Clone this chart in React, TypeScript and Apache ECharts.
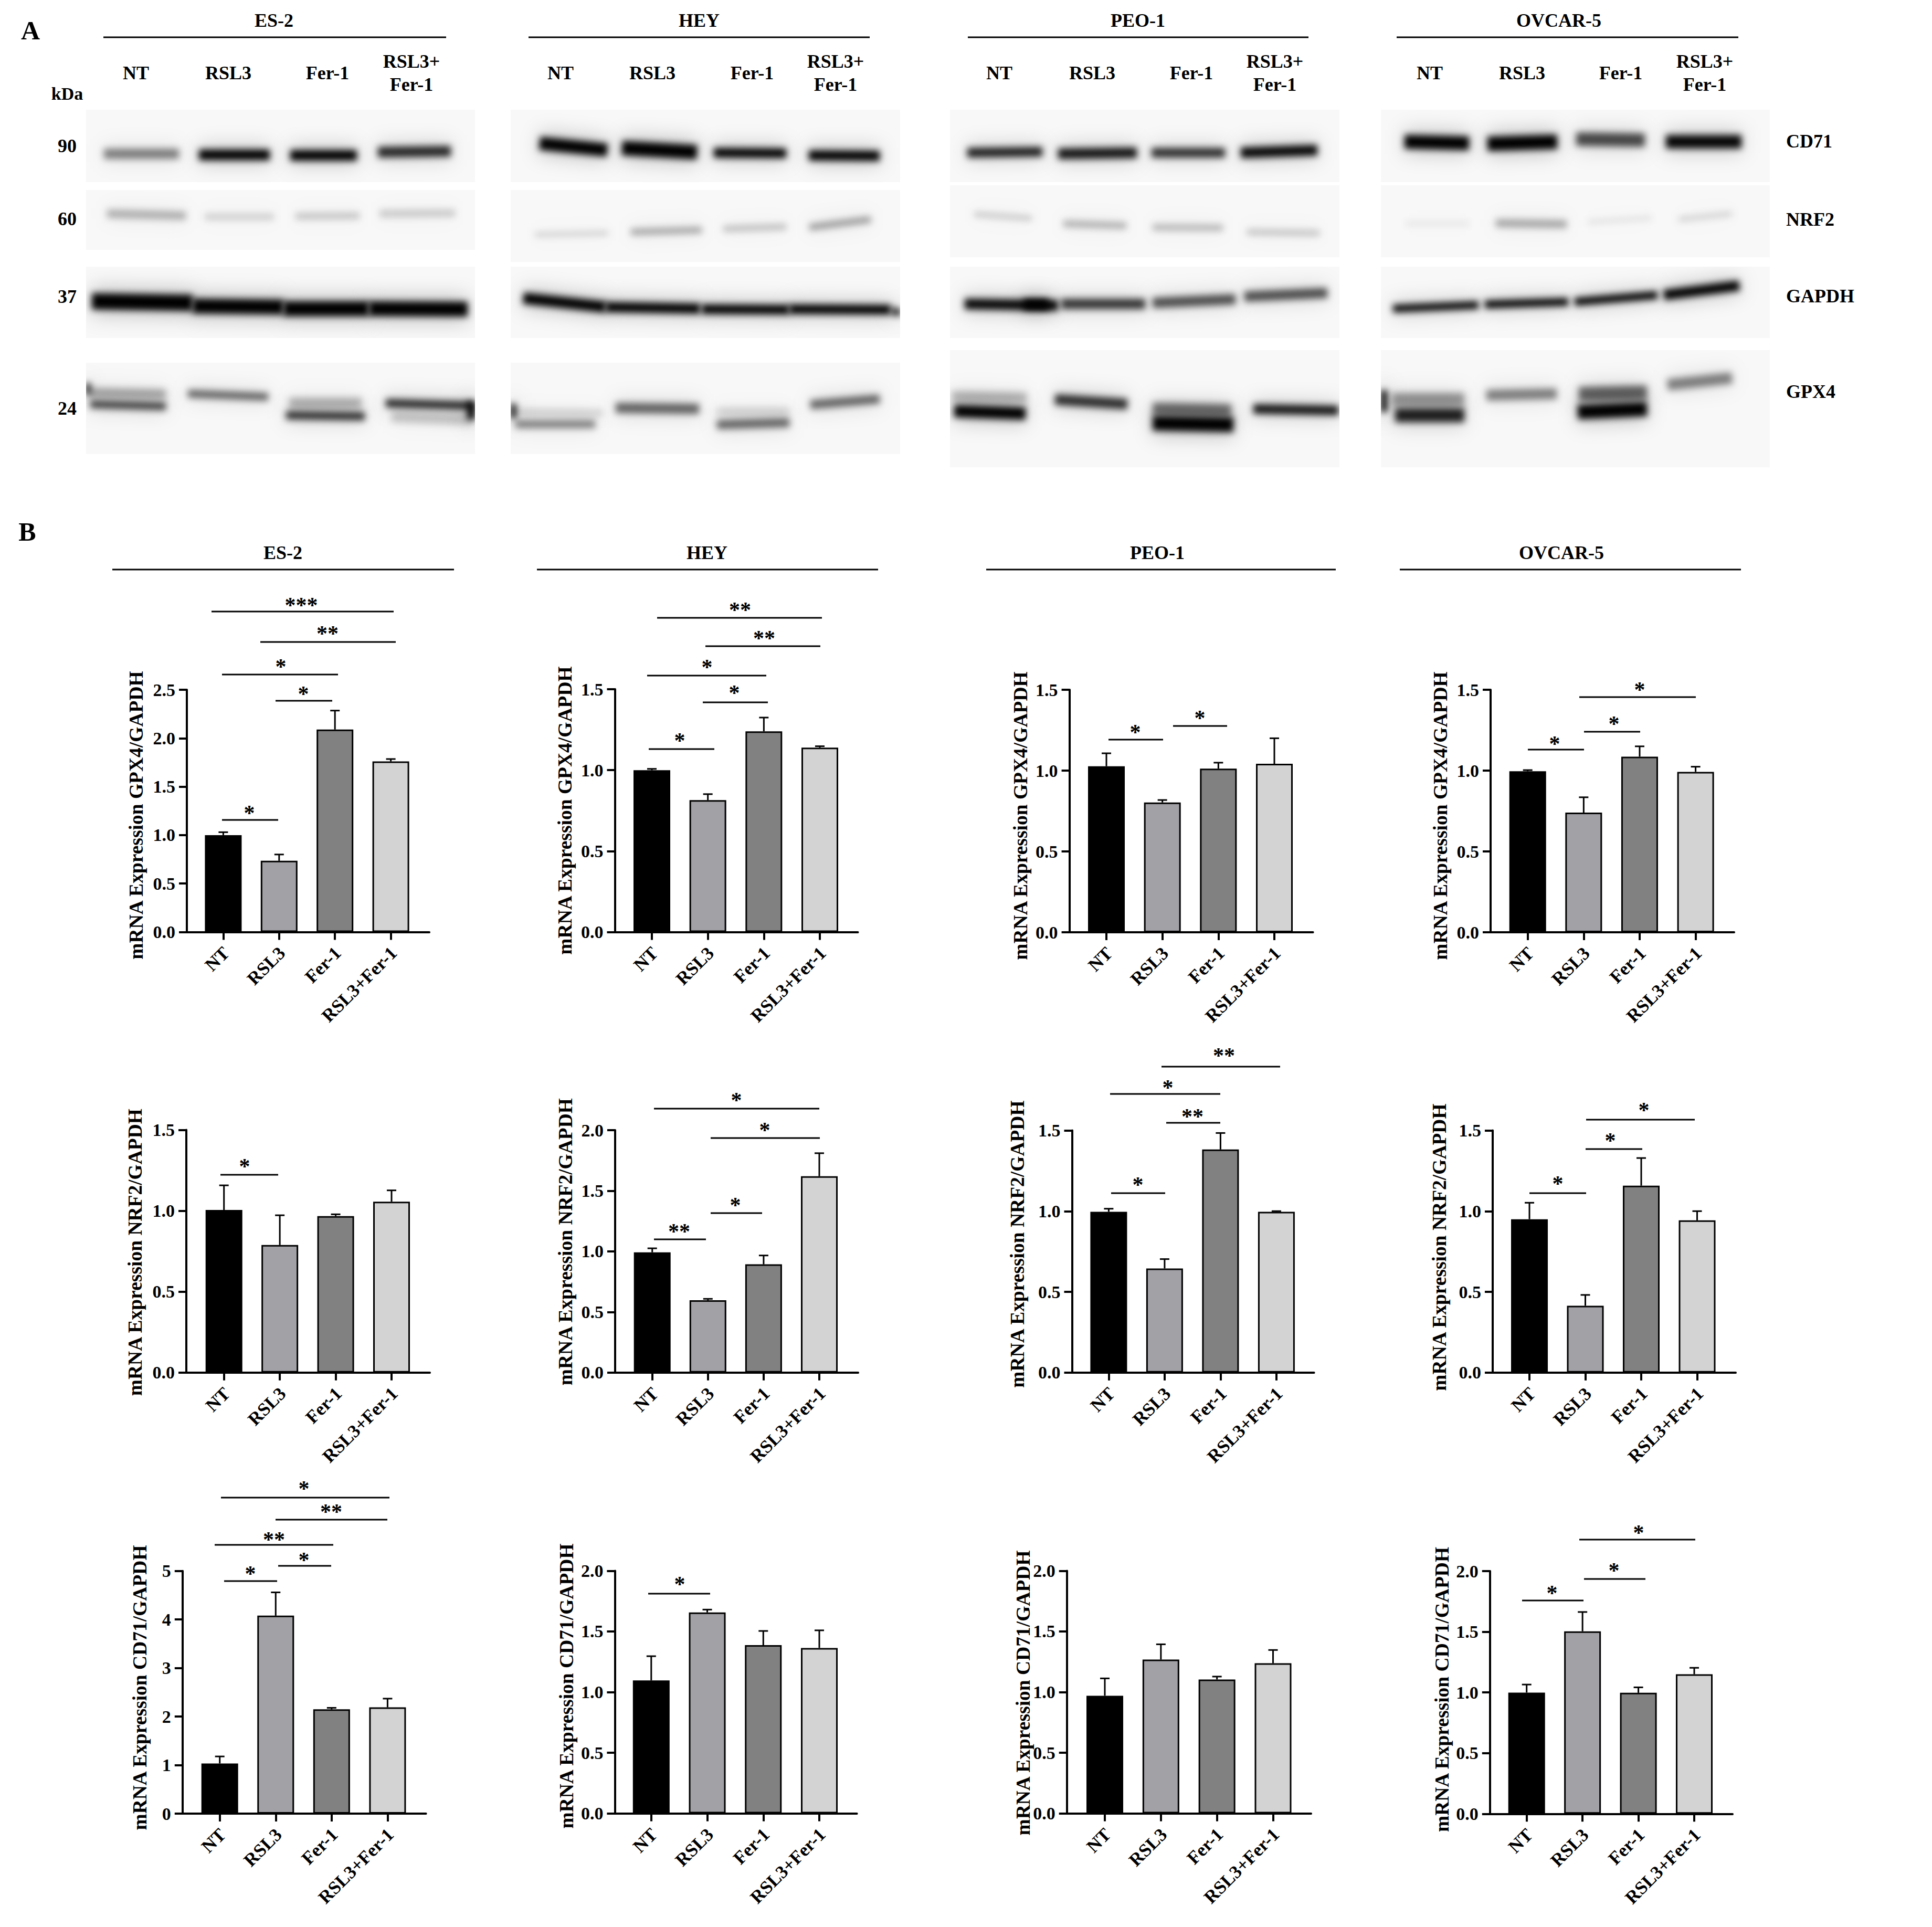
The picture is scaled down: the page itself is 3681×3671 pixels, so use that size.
import React, { useEffect, useRef } from "react";
import * as echarts from "echarts";

// ---------- categories and labels ----------
const categories = ["NT", "RSL3", "Fer-1", "RSL3+Fer-1"];
const blotLabels = ["NT", "RSL3", "Fer-1", "RSL3+\nFer-1"];
const cellLines = ["ES-2", "HEY", "PEO-1", "OVCAR-5"];
const proteins = ["CD71", "NRF2", "GAPDH", "GPX4"];
const markers = ["90", "60", "37", "24"];
const barColors = ["#000000", "#a1a1a6", "#818181", "#d3d3d3"];

// ---------- values: mean and upper error of every bar ----------
const es2Gpx4 = [1.0, 0.735, 2.09, 1.76];
const es2Gpx4Err = [0.03, 0.065, 0.195, 0.025];
const heyGpx4 = [1.0, 0.815, 1.24, 1.139];
const heyGpx4Err = [0.008, 0.037, 0.085, 0.009];
const peoGpx4 = [1.027, 0.803, 1.012, 1.042];
const peoGpx4Err = [0.08, 0.015, 0.037, 0.158];
const ovcarGpx4 = [0.996, 0.74, 1.086, 0.992];
const ovcarGpx4Err = [0.007, 0.095, 0.064, 0.032];

const es2Nrf2 = [1.005, 0.788, 0.967, 1.056];
const es2Nrf2Err = [0.152, 0.184, 0.011, 0.07];
const heyNrf2 = [0.992, 0.597, 0.893, 1.62];
const heyNrf2Err = [0.033, 0.011, 0.073, 0.19];
const peoNrf2 = [0.996, 0.645, 1.382, 0.996];
const peoNrf2Err = [0.019, 0.058, 0.102, 0.004];
const ovcarNrf2 = [0.95, 0.414, 1.158, 0.943];
const ovcarNrf2Err = [0.102, 0.067, 0.171, 0.057];

const es2Cd71 = [1.034, 4.08, 2.15, 2.19];
const es2Cd71Err = [0.144, 0.48, 0.03, 0.18];
const heyCd71 = [1.096, 1.657, 1.387, 1.364];
const heyCd71Err = [0.2, 0.023, 0.117, 0.145];
const peoCd71 = [0.97, 1.268, 1.104, 1.238];
const peoCd71Err = [0.143, 0.126, 0.024, 0.109];
const ovcarCd71 = [0.999, 1.504, 0.997, 1.15];
const ovcarCd71Err = [0.066, 0.159, 0.045, 0.053];

// ---------- layout of the twelve bar charts (pixels of the figure) ----------
const GPX = "mRNA Expression GPX4/GAPDH";
const NRF = "mRNA Expression NRF2/GAPDH";
const CD = "mRNA Expression CD71/GAPDH";
const panels: any[] = [
  { m: es2Gpx4, e: es2Gpx4Err, a: 356, t: 1314, z: 1775.5, end: 818, t0: 425.4, t3: 744.6, max: 2.5, step: 0.5, tx: 259, ty: 1553, title: GPX },
  { m: heyGpx4, e: heyGpx4Err, a: 1171.5, t: 1313, z: 1775.6, end: 1634.5, t0: 1242, t3: 1562, max: 1.5, step: 0.5, tx: 1076, ty: 1544, title: GPX },
  { m: peoGpx4, e: peoGpx4Err, a: 2037.6, t: 1314, z: 1776, end: 2501.6, t0: 2108, t3: 2428, max: 1.5, step: 0.5, tx: 1944, ty: 1554, title: GPX },
  { m: ovcarGpx4, e: ovcarGpx4Err, a: 2840, t: 1314, z: 1776, end: 3304, t0: 2910.7, t3: 3230.6, max: 1.5, step: 0.5, tx: 2744, ty: 1554, title: GPX },
  { m: es2Nrf2, e: es2Nrf2Err, a: 355, t: 2152.4, z: 2614.7, end: 819, t0: 426.7, t3: 746, max: 1.5, step: 0.5, tx: 257, ty: 2385.6, title: NRF },
  { m: heyNrf2, e: heyNrf2Err, a: 1172, t: 2153, z: 2614.7, end: 1635, t0: 1242.7, t3: 1561, max: 2, step: 0.5, tx: 1077, ty: 2365.6, title: NRF },
  { m: peoNrf2, e: peoNrf2Err, a: 2042.5, t: 2153.5, z: 2614.8, end: 2503.6, t0: 2112.4, t3: 2431.9, max: 1.5, step: 0.5, tx: 1938, ty: 2370, title: NRF },
  { m: ovcarNrf2, e: ovcarNrf2Err, a: 2844, t: 2153.5, z: 2614.8, end: 3307, t0: 2914, t3: 3233.5, max: 1.5, step: 0.5, tx: 2742, ty: 2376, title: NRF },
  { m: es2Cd71, e: es2Cd71Err, a: 347.8, t: 2992.8, z: 3455, end: 811.6, t0: 418.7, t3: 738.4, max: 5, step: 1, tx: 266, ty: 3215, title: CD },
  { m: heyCd71, e: heyCd71Err, a: 1171.4, t: 2992.4, z: 3454.6, end: 1632.6, t0: 1240.8, t3: 1561, max: 2, step: 0.5, tx: 1079.6, ty: 3212, title: CD },
  { m: peoCd71, e: peoCd71Err, a: 2032.7, t: 2992.4, z: 3454.6, end: 2498, t0: 2105, t3: 2425.5, max: 2, step: 0.5, tx: 1949, ty: 3225, title: CD },
  { m: ovcarCd71, e: ovcarCd71Err, a: 2838.8, t: 2993, z: 3455.3, end: 3301, t0: 2908.7, t3: 3228, max: 2, step: 0.5, tx: 2747, ty: 3218.5, title: CD },
];

// significance brackets: x1, x2, y, star x, star y, stars
const brackets: any[] = [
  [403, 750, 1165, 574, 1148, "***"], [496, 754, 1223, 624, 1202, "**"], [423, 644, 1285, 535, 1265, "*"], [525, 633, 1335, 578, 1317, "*"], [423, 530, 1562, 475, 1544, "*"],
  [1252, 1566, 1177, 1410, 1157, "**"], [1344, 1563, 1231, 1456, 1211, "**"], [1233, 1460, 1287, 1347, 1266, "*"], [1339, 1463, 1338, 1399, 1315, "*"], [1236, 1361, 1427, 1295, 1406, "*"],
  [2112, 2216, 1409, 2163, 1390, "*"], [2235, 2338, 1383, 2286, 1363, "*"],
  [3009, 3231, 1328, 3124, 1309, "*"], [3018, 3125, 1394, 3075, 1374, "*"], [2911, 3018, 1428, 2962, 1412, "*"],
  [420, 530, 2238, 466, 2217, "*"],
  [1246, 1561, 2112, 1403, 2091, "*"], [1354, 1562, 2168, 1457, 2148, "*"], [1354, 1452, 2311, 1401, 2291, "*"], [1246, 1345, 2361, 1294, 2341, "**"],
  [2213, 2439, 2032, 2332, 2006, "**"], [2115, 2325, 2084, 2225, 2067, "*"], [2222, 2325, 2139, 2272, 2122, "**"], [2117, 2220, 2273, 2168, 2252, "*"],
  [3022, 3229, 2133, 3132, 2110, "*"], [3021, 3129, 2189, 3068, 2168, "*"], [2914, 3022, 2273, 2968, 2250, "*"],
  [421, 742, 2853, 579, 2831, "*"], [525, 738, 2895, 631, 2875, "**"], [409, 635, 2943, 522, 2928, "**"], [530, 631, 2983, 579, 2967, "*"], [427, 528, 3012, 477, 2993, "*"],
  [1235, 1353, 3036, 1295, 3013, "*"],
  [3009, 3230, 2933, 3122, 2915, "*"], [3018, 3135, 3008, 3075, 2987, "*"], [2900, 3017, 3049, 2957, 3030, "*"],
];

// header bars: text x, text y, line x1, line x2, line y
const blotHeaders: any[] = [[522, 39, 197, 850, 71], [1332, 39, 1007, 1657, 71], [2168, 39, 1844, 2493, 71], [2970, 39, 2661, 3312, 71]];
const chartHeaders: any[] = [[539, 1053, 214, 865, 1085], [1347, 1053, 1023, 1673, 1085], [2205, 1053, 1879, 2545, 1085], [2975, 1053, 2667, 3317, 1085]];
const laneLabelX = [[259, 435, 624, 784], [1068, 1243, 1433, 1592], [1904, 2081, 2270, 2429], [2724, 2900, 3088, 3248]];
const markerY = [280, 419, 567, 780];
const proteinY = [270, 419, 565, 747];

// ---------- blots: the photographs of panel A, traced as soft bands ----------
// band: x1, y1, x2, y2, thickness, darkness
const blots: any[] = [
  { box: [164, 209, 905, 347], bands: [[198, 293, 341, 293, 17, 0.42], [379, 295, 514, 295, 18, 0.92], [553, 296, 680, 296, 18, 0.98], [720, 290, 859, 288, 18, 0.75]] },
  { box: [164, 362, 905, 476], bands: [[204, 407, 354, 411, 14, 0.25], [390, 413, 522, 413, 11, 0.14], [563, 412, 685, 411, 11, 0.18], [723, 407, 867, 406, 12, 0.16]] },
  { box: [164, 508, 905, 644], bands: [[175, 574, 367, 577, 27, 1], [367, 583, 540, 585, 25, 1], [540, 588, 703, 588, 25, 1], [703, 588, 891, 589, 25, 1]] },
  { box: [164, 691, 905, 865], bands: [[166, 748, 316, 751, 16, 0.28], [172, 770, 316, 774, 13, 0.65], [358, 750, 511, 756, 13, 0.52], [551, 768, 689, 768, 18, 0.24], [545, 791, 695, 793, 14, 0.72], [735, 768, 901, 773, 14, 0.75], [746, 794, 901, 800, 18, 0.16], [164, 740, 172, 740, 18, 1], [890, 782, 905, 782, 30, 1]] },
  { box: [973, 209, 1715, 347], bands: [[1028, 273, 1157, 286, 22, 1], [1185, 282, 1328, 290, 24, 1], [1360, 291, 1498, 292, 16, 1], [1541, 296, 1676, 297, 17, 1]] },
  { box: [973, 362, 1715, 499], bands: [[1019, 447, 1159, 444, 8, 0.14], [1202, 442, 1337, 438, 11, 0.28], [1378, 436, 1498, 432, 10, 0.2], [1542, 433, 1659, 418, 11, 0.32]] },
  { box: [973, 508, 1715, 644], bands: [[997, 568, 1154, 585, 19, 1], [1154, 585, 1334, 588, 17, 1], [1337, 589, 1504, 590, 16, 1], [1504, 589, 1697, 590, 16, 1], [1699, 591, 1715, 597, 12, 0.8]] },
  { box: [973, 691, 1715, 865], bands: [[976, 785, 1148, 787, 12, 0.12], [982, 808, 1134, 808, 13, 0.42], [1173, 777, 1332, 779, 17, 0.52], [1366, 784, 1504, 784, 13, 0.12], [1366, 809, 1504, 805, 15, 0.52], [1544, 771, 1676, 760, 15, 0.52], [973, 783, 983, 783, 24, 1]] },
  { box: [1810, 209, 2552, 347], bands: [[1843, 291, 1986, 289, 16, 0.78], [2016, 293, 2166, 291, 18, 0.82], [2194, 291, 2334, 291, 16, 0.72], [2364, 291, 2510, 286, 18, 0.88]] },
  { box: [1810, 353, 2552, 490], bands: [[1856, 408, 1966, 416, 8, 0.18], [2026, 426, 2146, 430, 11, 0.25], [2196, 433, 2330, 434, 11, 0.22], [2376, 442, 2514, 444, 10, 0.18]] },
  { box: [1810, 508, 2552, 644], bands: [[1838, 579, 2016, 582, 18, 0.88], [1950, 580, 1998, 580, 17, 1], [2022, 579, 2182, 579, 17, 0.7], [2196, 577, 2354, 570, 17, 0.6], [2371, 565, 2529, 558, 17, 0.6]] },
  { box: [1810, 667, 2552, 890], bands: [[1814, 755, 1956, 758, 18, 0.22], [1818, 783, 1954, 788, 21, 1], [2010, 761, 2148, 770, 18, 0.72], [2196, 779, 2346, 782, 21, 0.48], [2196, 806, 2350, 809, 25, 1], [2388, 779, 2550, 782, 16, 0.82]] },
  { box: [2631, 209, 3372, 347], bands: [[2676, 270, 2799, 273, 23, 0.95], [2834, 274, 2967, 270, 24, 1], [3003, 265, 3134, 267, 22, 0.62], [3174, 270, 3318, 270, 22, 0.88]] },
  { box: [2631, 353, 3372, 490], bands: [[2679, 426, 2799, 426, 7, 0.07], [2850, 425, 2985, 427, 13, 0.28], [3026, 423, 3146, 415, 7, 0.09], [3198, 418, 3300, 407, 8, 0.14]] },
  { box: [2631, 508, 3372, 644], bands: [[2654, 588, 2817, 581, 13, 0.88], [2829, 580, 2988, 575, 13, 0.95], [3000, 575, 3158, 562, 13, 1], [3170, 562, 3314, 544, 17, 1]] },
  { box: [2631, 667, 3372, 890], bands: [[2652, 761, 2790, 761, 22, 0.33], [2658, 791, 2790, 791, 23, 0.78], [2832, 753, 2966, 750, 18, 0.42], [3008, 751, 3138, 748, 24, 0.52], [3006, 785, 3138, 779, 24, 1], [3177, 733, 3300, 720, 19, 0.42], [2631, 764, 2643, 764, 36, 1]] },
];

const FONT = "Liberation Serif";

function paintBlot(box: number[], bands: number[][]) {
  const [x0, y0, x1, y1] = box;
  const c = document.createElement("canvas");
  c.width = Math.round(x1 - x0);
  c.height = Math.round(y1 - y0);
  const g = c.getContext("2d") as any;
  g.fillStyle = "#f8f8f8";
  g.fillRect(0, 0, c.width, c.height);
  const stroke = (b: number[], extra: number, alpha: number) => {
    g.strokeStyle = `rgba(0,0,0,${Math.min(1, alpha)})`;
    g.lineWidth = b[4] * extra;
    g.beginPath();
    g.moveTo(b[0] - x0, b[1] - y0);
    g.lineTo(b[2] - x0, b[3] - y0);
    g.stroke();
  };
  g.filter = "blur(18px)";
  bands.forEach((b) => stroke(b, 2, b[5] * 0.2));
  g.filter = "blur(6.5px)";
  bands.forEach((b) => stroke(b, 1.15, b[5] * 1.1));
  return c.toDataURL("image/png");
}

function headerText(text: string, x: number, y: number, size = 36, align = "center") {
  return {
    type: "text",
    x,
    y,
    style: { text, align, verticalAlign: "middle", fontFamily: FONT, fontWeight: "bold", fontSize: size, lineHeight: 44, fill: "#000" },
  };
}

function hline(x1: number, x2: number, y: number, w = 3) {
  return { type: "line", shape: { x1, y1: y, x2, y2: y }, style: { stroke: "#000", lineWidth: w } };
}

function buildOption() {
  const elements: any[] = [];
  blots.forEach((b) => {
    const [x0, y0, x1, y1] = b.box;
    elements.push({ type: "image", x: x0, y: y0, style: { image: paintBlot(b.box, b.bands), width: x1 - x0, height: y1 - y0 } });
  });
  elements.push(headerText("A", 58, 58, 50), headerText("B", 52, 1013, 50), headerText("kDa", 128, 178, 34));
  blotHeaders.forEach((h, i) => elements.push(headerText(cellLines[i], h[0], h[1]), hline(h[2], h[3], h[4])));
  chartHeaders.forEach((h, i) => elements.push(headerText(cellLines[i], h[0], h[1]), hline(h[2], h[3], h[4])));
  laneLabelX.forEach((xs) => xs.forEach((x, i) => elements.push(headerText(blotLabels[i], x, 139))));
  markers.forEach((m, i) => elements.push(headerText(m, 128, markerY[i] - 2)));
  proteins.forEach((p, i) => elements.push(headerText(p, 3403, proteinY[i] - 1, 36, "left")));
  panels.forEach((p) =>
    elements.push({
      type: "text",
      x: p.tx,
      y: p.ty,
      rotation: Math.PI / 2,
      style: { text: p.title, align: "center", verticalAlign: "middle", fontFamily: FONT, fontWeight: "bold", fontSize: 37.5, fill: "#000" },
    })
  );
  brackets.forEach((b) => {
    elements.push(hline(b[0], b[1], b[2], 3));
    elements.push(headerText(b[5], b[3], b[4] + 5, 42));
  });

  const grid: any[] = [];
  const xAxis: any[] = [];
  const yAxis: any[] = [];
  const series: any[] = [];
  panels.forEach((p, i) => {
    const sp = (p.t3 - p.t0) / 3;
    grid.push({ left: p.a, top: p.t, width: p.end - p.a, height: p.z - p.t, containLabel: false });
    xAxis.push({
      gridIndex: i,
      type: "value",
      min: (p.a - p.t0) / sp,
      max: (p.end - p.t0) / sp,
      splitLine: { show: false },
      axisLine: { show: true, onZero: false, lineStyle: { color: "#000", width: 4 } },
      axisTick: { show: true, customValues: [0, 1, 2, 3], length: 15, lineStyle: { color: "#000", width: 4 } },
      axisLabel: {
        show: true,
        customValues: [0, 1, 2, 3],
        rotate: 45,
        margin: 40,
        padding: [0, -8, 0, 0],
        formatter: (v: number) => categories[Math.round(v)],
        fontFamily: FONT,
        fontWeight: "bold",
        fontSize: 35,
        color: "#000",
      },
    });
    yAxis.push({
      gridIndex: i,
      type: "value",
      min: 0,
      max: p.max,
      interval: p.step,
      splitLine: { show: false },
      axisLine: { show: true, onZero: false, lineStyle: { color: "#000", width: 4 } },
      axisTick: { show: true, length: 15, lineStyle: { color: "#000", width: 4 } },
      axisLabel: {
        margin: 22,
        formatter: (v: number) => (p.step === 1 ? String(v) : v.toFixed(1)),
        fontFamily: FONT,
        fontWeight: "bold",
        fontSize: 34,
        color: "#000",
      },
    });
    series.push({
      type: "bar",
      xAxisIndex: i,
      yAxisIndex: i,
      barWidth: 70,
      data: p.m.map((v: number, k: number) => ({
        value: [k, v],
        itemStyle: { color: barColors[k], borderColor: "#000", borderWidth: 3 },
      })),
    });
    series.push({
      type: "custom",
      xAxisIndex: i,
      yAxisIndex: i,
      clip: false,
      z: 3,
      encode: { x: 0, y: 2 },
      data: p.m.map((v: number, k: number) => [k, v, v + p.e[k]]),
      renderItem: (_: any, api: any) => {
        const a = api.coord([api.value(0), api.value(1)]);
        const b = api.coord([api.value(0), api.value(2)]);
        const st = { stroke: "#000", lineWidth: 3 };
        return {
          type: "group",
          children: [
            { type: "line", shape: { x1: a[0], y1: a[1], x2: b[0], y2: b[1] }, style: st },
            { type: "line", shape: { x1: b[0] - 9, y1: b[1], x2: b[0] + 9, y2: b[1] }, style: st },
          ],
        };
      },
    });
  });

  return { animation: false, backgroundColor: "#fff", grid, xAxis, yAxis, series, graphic: { elements } };
}

export default function App() {
  const ref = useRef<HTMLDivElement>(null);
  useEffect(() => {
    if (!ref.current) return;
    const chart = echarts.init(ref.current, undefined, { renderer: "svg" });
    chart.setOption(buildOption() as any);
    return () => chart.dispose();
  }, []);
  return <div ref={ref} style={{ position: "absolute", left: 0, top: 0, width: 3681, height: 3671 }} />;
}
